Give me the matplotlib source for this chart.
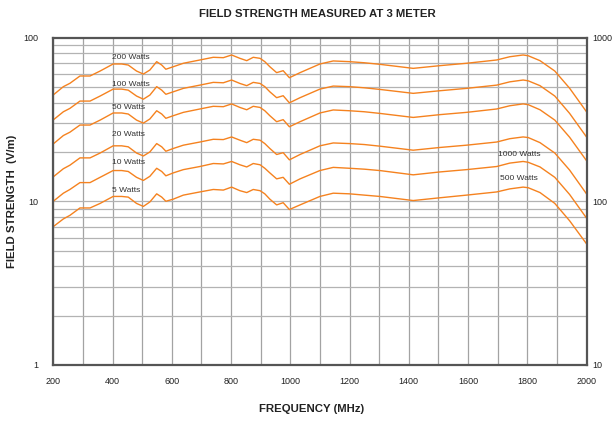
import matplotlib
matplotlib.use("Agg")
import matplotlib.pyplot as plt
from matplotlib.ticker import FixedLocator, NullFormatter, NullLocator

plt.rcParams['font.family'] = ['Liberation Sans', 'DejaVu Sans']

freq = [200, 234, 256, 290, 324, 358, 402, 431, 453, 481,
        504, 526, 549, 566, 580, 605, 639, 695, 740, 774,
        802, 830, 853, 875, 898, 914, 931, 954, 976, 997,
        1033, 1100, 1145, 1200, 1250, 1302, 1415, 1505, 1595, 1697,
        1741, 1786, 1803, 1843, 1893, 1943, 2000]

w200 = [44.6, 50.1, 52.5, 58.2, 58.2, 62.4, 68.9, 68.9, 67.9, 62.4,
        59.8, 63.3, 71.2, 67.9, 64.0, 66.3, 69.6, 72.9, 75.7, 75.3,
        78.2, 74.6, 72.2, 75.7, 74.6, 71.2, 66.3, 61.0, 62.7, 56.8,
        61.0, 68.9, 71.9, 71.2, 70.1, 68.6, 64.8, 67.3, 69.6, 72.9,
        76.3, 78.2, 77.4, 72.2, 62.4, 49.0, 35.2]
w100 = [31.4, 35.2, 36.9, 40.9, 40.9, 43.9, 48.4, 48.4, 47.7, 43.9,
        42.0, 44.5, 50.1, 47.7, 45.0, 46.6, 48.9, 51.2, 53.2, 52.9,
        55.0, 52.4, 50.8, 53.2, 52.4, 50.1, 46.6, 42.9, 44.1, 39.9,
        42.9, 48.4, 50.5, 50.1, 49.3, 48.2, 45.6, 47.3, 48.9, 51.2,
        53.6, 55.0, 54.4, 50.8, 43.9, 34.4, 24.7]
w50 = [22.4, 25.2, 26.4, 29.2, 29.2, 31.3, 34.6, 34.6, 34.1, 31.3,
       30.0, 31.8, 35.7, 34.1, 32.1, 33.3, 34.9, 36.6, 38.0, 37.8,
       39.3, 37.4, 36.2, 38.0, 37.4, 35.7, 33.3, 30.6, 31.5, 28.5,
       30.6, 34.6, 36.1, 35.7, 35.2, 34.4, 32.5, 33.8, 34.9, 36.6,
       38.3, 39.3, 38.9, 36.2, 31.3, 24.6, 17.7]
w20 = [14.1, 15.8, 16.6, 18.4, 18.4, 19.7, 21.8, 21.8, 21.5, 19.7,
       18.9, 20.0, 22.5, 21.5, 20.2, 21.0, 22.0, 23.0, 23.9, 23.8,
       24.7, 23.6, 22.8, 23.9, 23.6, 22.5, 21.0, 19.3, 19.8, 17.9,
       19.3, 21.8, 22.7, 22.5, 22.2, 21.7, 20.5, 21.3, 22.0, 23.0,
       24.1, 24.7, 24.5, 22.8, 19.7, 15.5, 11.1]
w10 = [10.0, 11.2, 11.8, 13.0, 13.0, 14.0, 15.4, 15.4, 15.2, 14.0,
       13.4, 14.2, 15.9, 15.2, 14.3, 14.9, 15.6, 16.3, 17.0, 16.9,
       17.5, 16.7, 16.2, 17.0, 16.7, 15.9, 14.9, 13.7, 14.0, 12.7,
       13.7, 15.4, 16.1, 15.9, 15.7, 15.4, 14.5, 15.1, 15.6, 16.3,
       17.1, 17.5, 17.3, 16.2, 14.0, 11.0, 7.9]
w5 = [7.0, 7.8, 8.2, 9.1, 9.1, 9.7, 10.7, 10.7, 10.6, 9.7,
      9.3, 9.9, 11.1, 10.6, 10.0, 10.3, 10.9, 11.4, 11.8, 11.7,
      12.2, 11.6, 11.3, 11.8, 11.6, 11.1, 10.3, 9.5, 9.8, 8.9,
      9.5, 10.7, 11.2, 11.1, 10.9, 10.7, 10.1, 10.5, 10.9, 11.4,
      11.9, 12.2, 12.1, 11.3, 9.7, 7.6, 5.5]

series = [w200, w100, w50, w20, w10, w5]

left_labels = ["200 Watts", "100 Watts", "50 Watts", "20 Watts", "10 Watts", "5 Watts"]
left_label_pos = [(398, 75.3), (398, 51.8), (398, 37.3), (398, 25.4), (398, 17.2), (398, 11.7)]
right_labels = ["1000 Watts", "500 Watts"]
right_label_pos = [(1700, 19.4), (1707, 13.8)]

xticks = [200, 400, 600, 800, 1000, 1200, 1400, 1600, 1800, 2000]
xgrid = list(range(200, 2001, 100))
yticks_left = [1, 10, 100]
yticks_right = [10, 100, 1000]

fig = plt.figure(figsize=(6.13, 4.21), dpi=100)
ax = fig.add_axes([53.3 / 613, 1 - 365 / 421, (586.5 - 53.3) / 613, (365 - 37.5) / 421])

ax.set_yscale('log')
ax.set_xlim(200, 2000)
ax.set_ylim(1, 100)

# grid
for xv in xgrid:
    ax.axvline(xv, color='#a3a3a3', lw=0.9, zorder=1)
for dec in [1, 10]:
    for m in range(1, 10):
        yv = dec * m
        if yv <= 1:
            continue
        ax.axhline(yv, color='#b3b3b3', lw=0.9, zorder=1)

orange = '#f5821f'
for s in series:
    ax.plot(freq, s, color=orange, lw=1.0, zorder=3, solid_joinstyle='round')

for lab, (x, y) in zip(left_labels, left_label_pos):
    ax.text(x, y, lab, fontsize=6, color='#333333', ha='left', va='center', zorder=4)
for lab, (x, y) in zip(right_labels, right_label_pos):
    ax.text(x, y, lab, fontsize=6, color='#333333', ha='left', va='center', zorder=4)

ax.xaxis.set_major_locator(FixedLocator(xticks))
ax.set_xticklabels([str(v) for v in xticks])
ax.yaxis.set_major_locator(FixedLocator(yticks_left))
ax.set_yticklabels([str(v) for v in yticks_left])
ax.yaxis.set_minor_locator(NullLocator())
ax.yaxis.set_minor_formatter(NullFormatter())
ax.tick_params(axis='x', length=0, pad=9, labelsize=6.5, labelcolor='#222222')
ax.tick_params(axis='y', length=0, pad=11, labelsize=6.5, labelcolor='#222222')

for sp in ax.spines.values():
    sp.set_color('#555555')
    sp.set_linewidth(1.6)
    sp.set_zorder(5)

ax2 = ax.twinx()
ax2.set_yscale('log')
ax2.set_ylim(10, 1000)
ax2.yaxis.set_major_locator(FixedLocator(yticks_right))
ax2.set_yticklabels([str(v) for v in yticks_right])
ax2.yaxis.set_minor_locator(NullLocator())
ax2.yaxis.set_minor_formatter(NullFormatter())
ax2.tick_params(axis='y', length=0, pad=4, labelsize=6.5, labelcolor='#222222')
for sp in ax2.spines.values():
    sp.set_visible(False)

fig.text(317 / 613, 1 - 14 / 421, "FIELD STRENGTH MEASURED AT 3 METER",
         ha='center', va='center', fontsize=8.2, fontweight='bold', color='#222222')
fig.text(312 / 613, 1 - 409 / 421, "FREQUENCY (MHz)",
         ha='center', va='center', fontsize=8.2, fontweight='bold', color='#222222')
fig.text(12 / 613, 1 - 201 / 421, "FIELD STRENGTH  (V/m)", rotation=90,
         ha='center', va='center', fontsize=8.2, fontweight='bold', color='#222222')

fig.savefig("out.png", dpi=100)
